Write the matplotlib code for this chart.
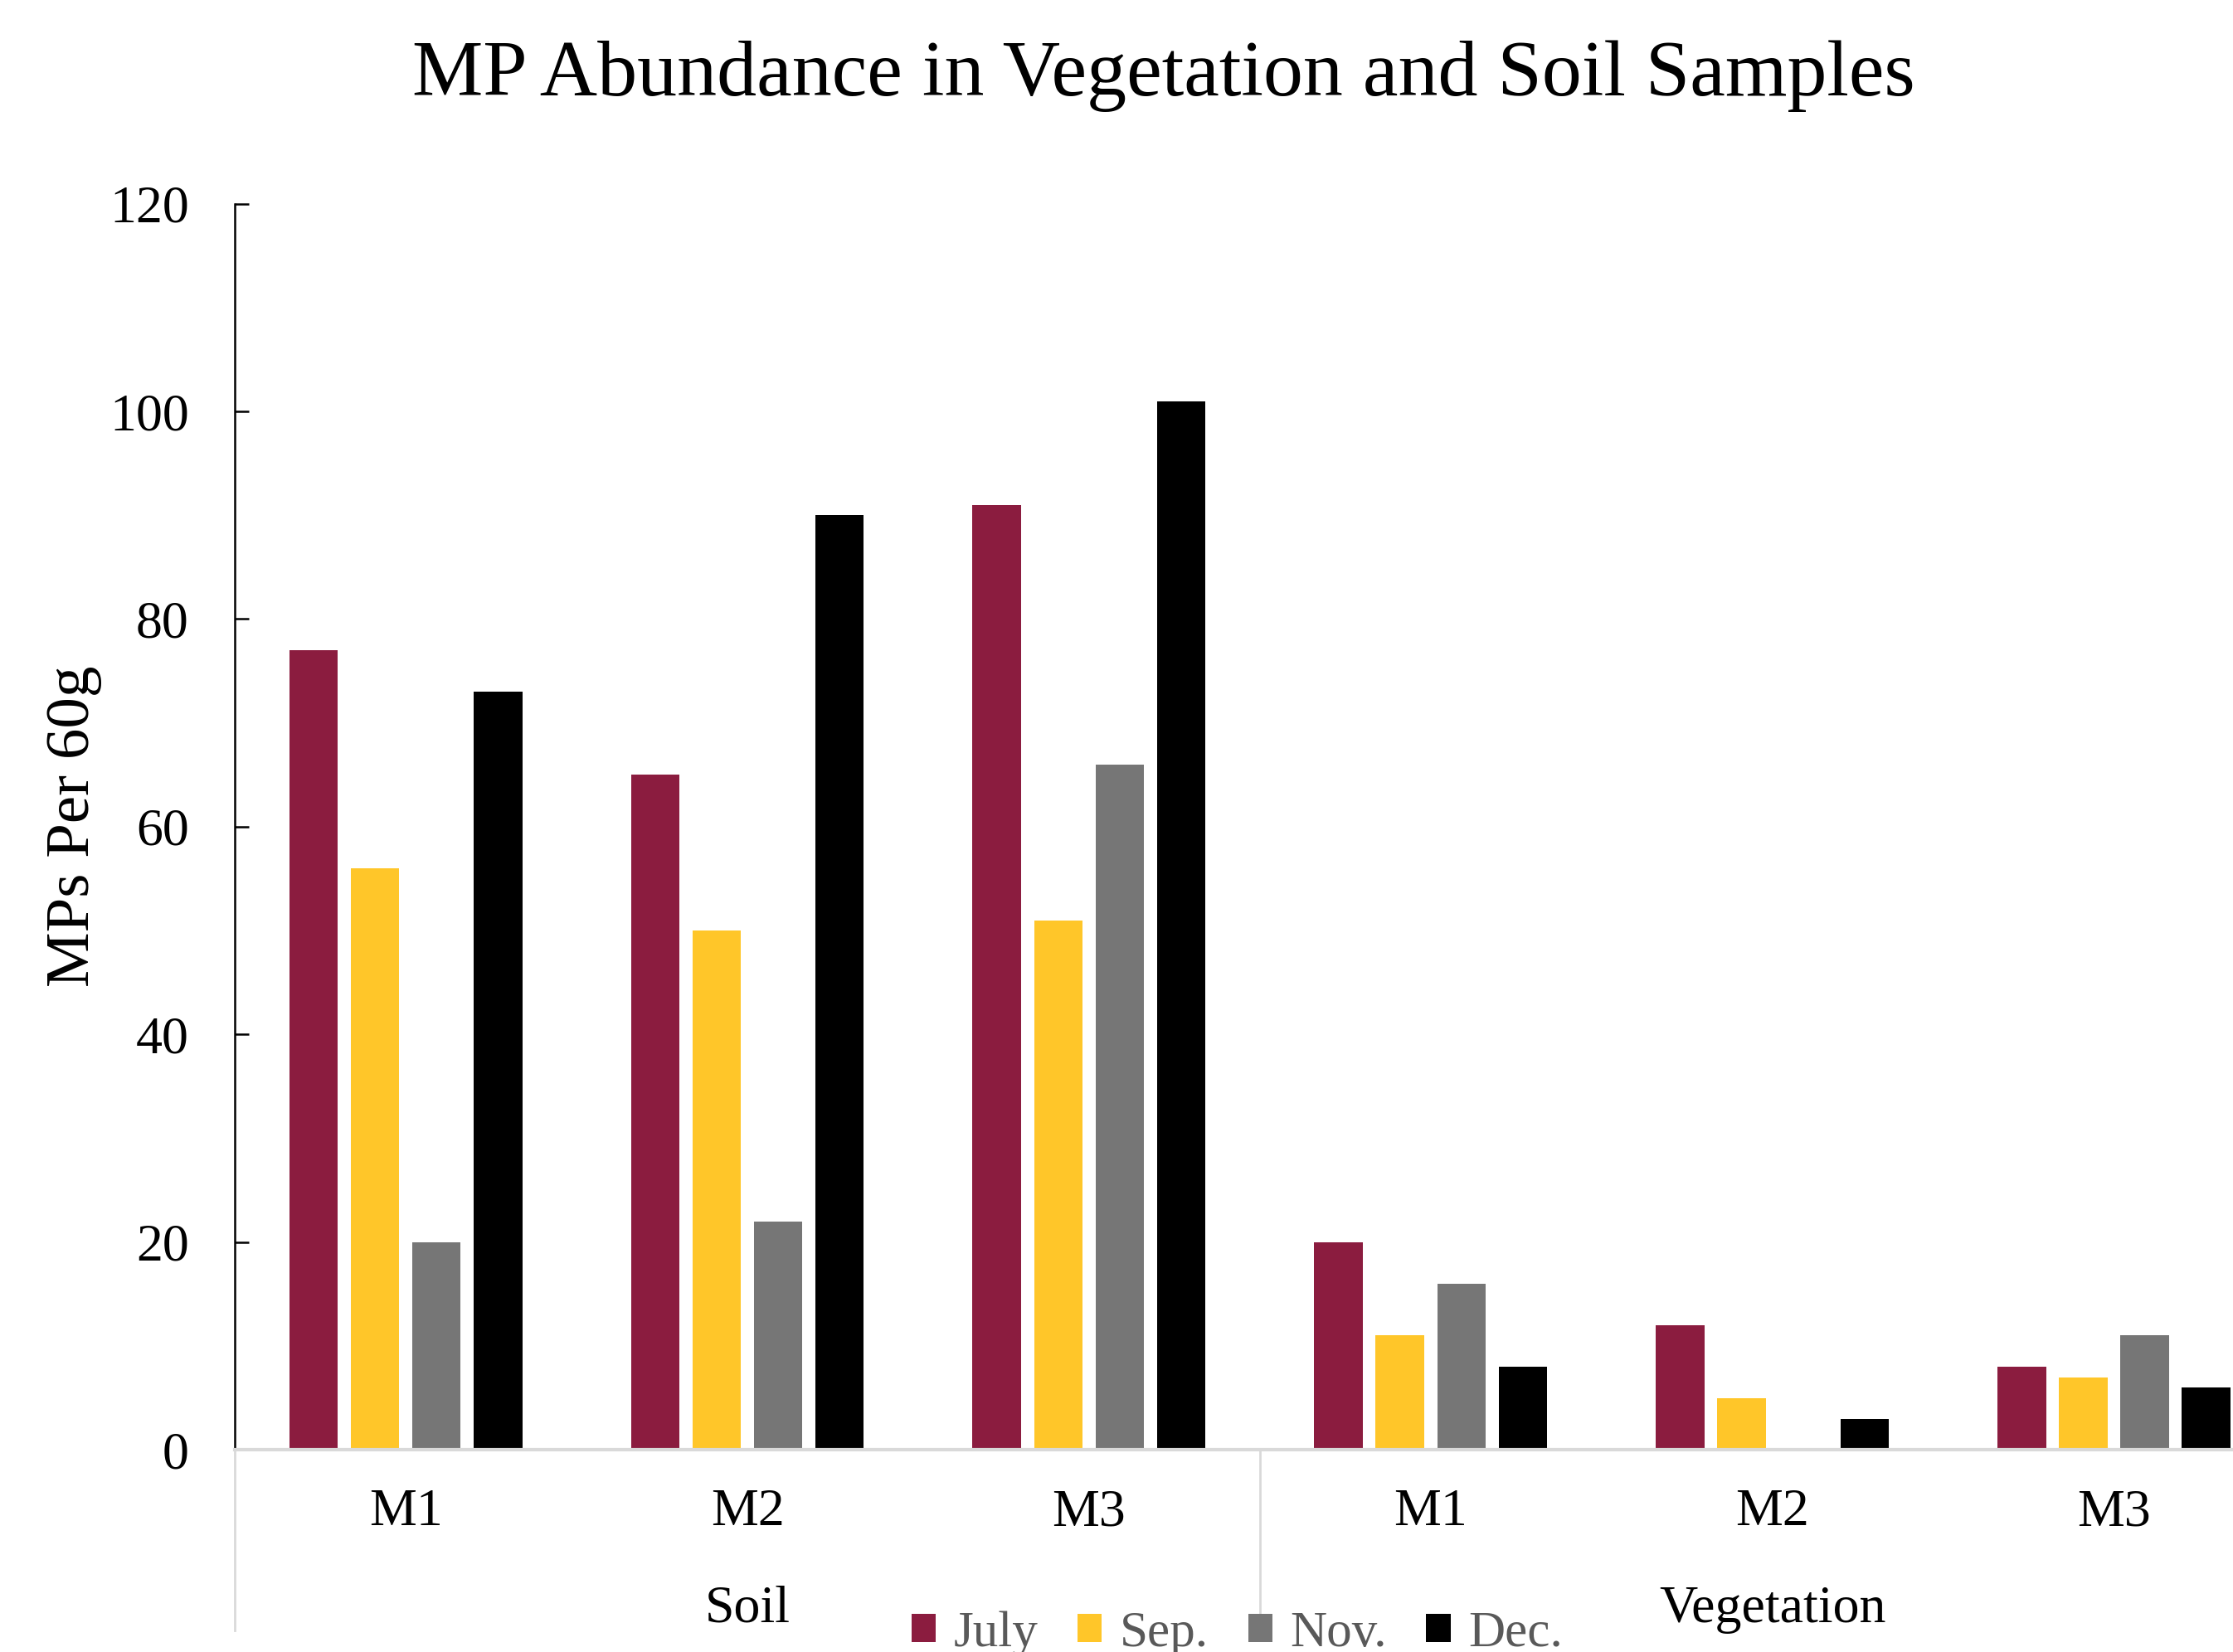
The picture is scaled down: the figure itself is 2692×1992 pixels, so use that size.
import matplotlib
matplotlib.use("Agg")
import matplotlib.pyplot as plt
import matplotlib.transforms as mtransforms
from matplotlib.patches import Patch
import numpy as np

plt.rcParams['font.family'] = ['Liberation Serif', 'DejaVu Serif']

# data
sites = ['M1', 'M2', 'M3', 'M1', 'M2', 'M3']
groups = ['Soil', 'Vegetation']
months = ['July', 'Sep.', 'Nov.', 'Dec.']
july = [77, 65, 91, 20, 12, 8]
sep = [56, 50, 51, 11, 5, 7]
nov = [20, 22, 66, 16, 0, 11]
dec = [73, 90, 101, 8, 3, 6]
colors = ['#8B1C3F', '#FFC629', '#767676', '#000000']

fig = plt.figure(figsize=(13.46, 9.96), dpi=200)
ax = fig.add_axes([0.1052, 0.1224, 0.918, 0.7543])

x = np.arange(len(sites))
step = 0.18
width = 0.142
for i, (vals, col) in enumerate(zip([july, sep, nov, dec], colors)):
    ax.bar(x + (i - 1.5) * step, vals, width=width, color=col, zorder=2)

ax.set_xlim(-0.5, 5.5)
ax.set_ylim(0, 120)
ax.set_yticks(range(0, 121, 20))
ax.tick_params(axis='y', direction='in', length=6, width=0.9, pad=20, labelsize=23)
ax.set_xticks(x)
ax.set_xticklabels(sites)
ax.tick_params(axis='x', length=0, pad=17, labelsize=23)

for s in ['top', 'right']:
    ax.spines[s].set_visible(False)
ax.spines['bottom'].set_color('#d9d9d9')
ax.spines['bottom'].set_linewidth(1.5)
ax.spines['left'].set_linewidth(0.9)

# group labels and separators under the axis
trans = mtransforms.blended_transform_factory(ax.transData, ax.transAxes)
ax.text(1, -0.128, groups[0], transform=trans, ha='center', va='center', fontsize=23)
ax.text(4, -0.128, groups[1], transform=trans, ha='center', va='center', fontsize=23)
for xs in [-0.5, 2.5]:
    ax.plot([xs, xs], [0, -0.145], transform=trans, color='#d9d9d9', lw=1.0, clip_on=False)

fig.text(0.521, 0.954, 'MP Abundance in Vegetation and Soil Samples',
         ha='center', va='center', fontsize=34.5)
fig.text(0.033, 0.5, 'MPs Per 60g', rotation=90, ha='center', va='center', fontsize=27)

handles = [Patch(facecolor=c) for c in colors]
fig.legend(handles, months, loc='center', bbox_to_anchor=(0.554, 0.011), ncol=4,
           frameon=False, fontsize=22, labelcolor='#595959', handlelength=0.48,
           handleheight=0.48, handletextpad=0.35, columnspacing=0.78, borderpad=0)

fig.savefig('out.png', dpi=200)
